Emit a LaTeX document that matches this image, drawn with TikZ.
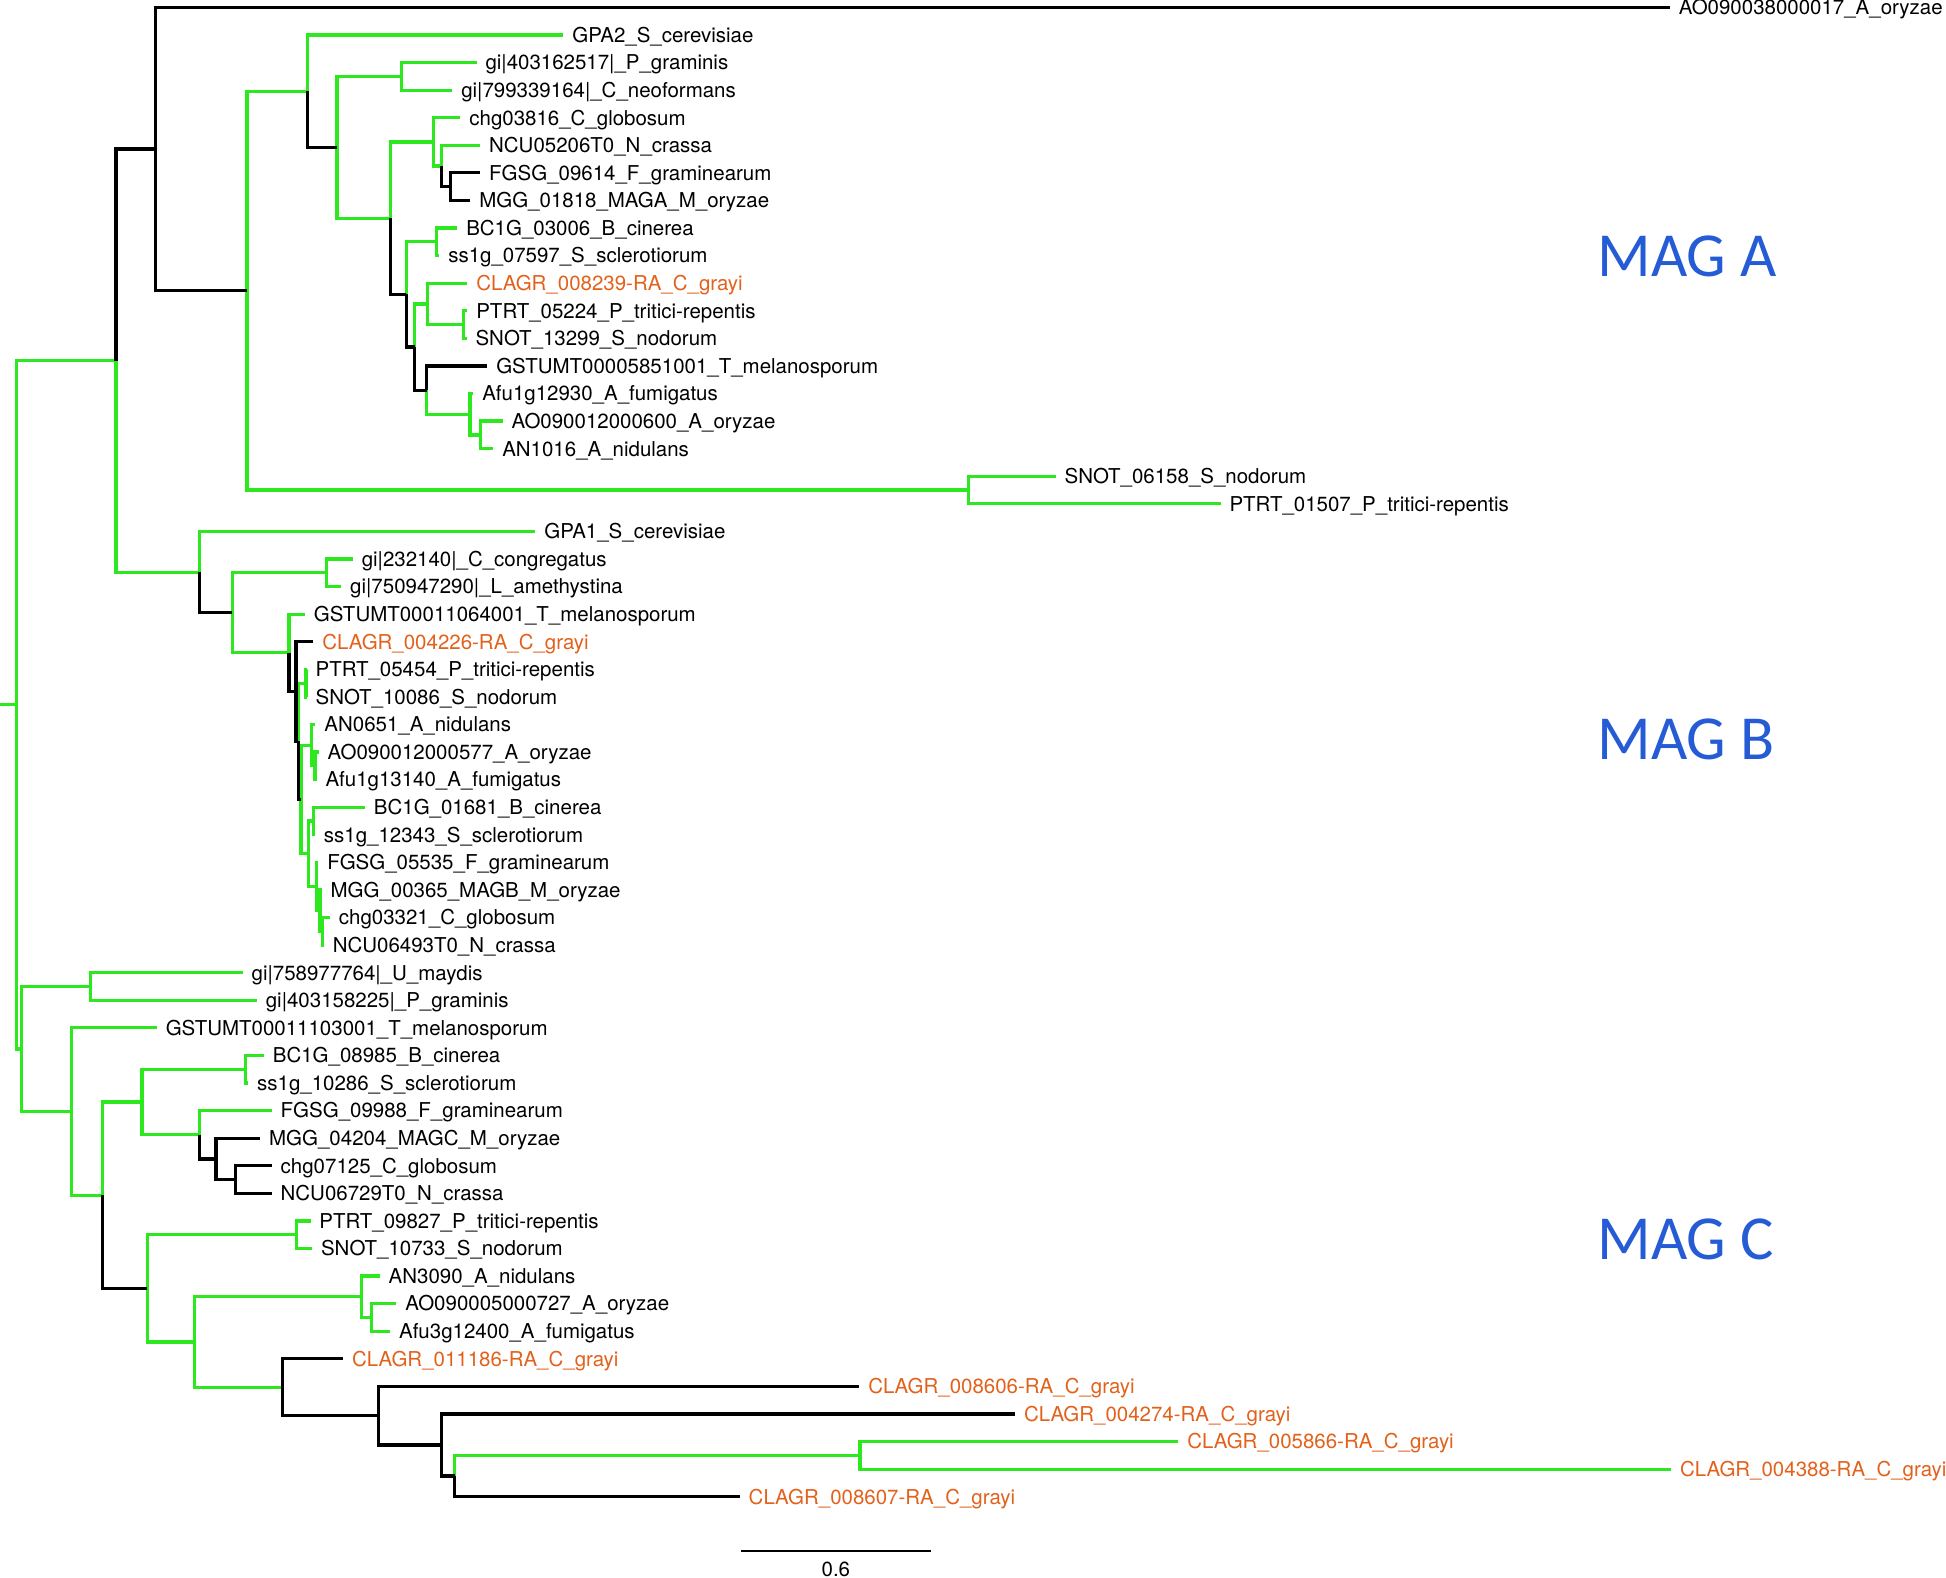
\documentclass[tikz,border=0pt]{standalone}
\usepackage{fontspec}
\newfontfamily\helv{TeX Gyre Heros}
\newfontfamily\magf{Carlito}
\newcommand{\labf}{\helv\fontsize{16.5}{16.5}\selectfont}
\definecolor{tgreen}{RGB}{45,232,30}
\definecolor{torange}{RGB}{226,97,27}
\definecolor{tblue}{RGB}{37,92,214}
\newcommand{\lf}[4]{%
  \coordinate (#1) at (#2,#3);
  \node[lab] (#1t) at (#2+7,#3+5.9) {#4};}
\newcommand{\olf}[4]{%
  \coordinate (#1) at (#2,#3);
  \node[lab,text=torange] (#1t) at (#2+7,#3+5.9) {#4};}
\begin{document}
\begin{tikzpicture}[x=1pt,y=-1pt,
  g/.style={draw=tgreen,line width=2.6pt},
  k/.style={draw=black,line width=2.6pt},
  lab/.style={anchor=base west,inner sep=0pt,font=\labf},
  mag/.style={anchor=base west,inner sep=0pt,text=tblue,font=\magf\fontsize{50.5}{50.5}\selectfont}]
\useasboundingbox (0,0) rectangle (1568,1271);
% leaves
\lf{l1}{1345.5}{6.0}{AO090038000017\_A\_oryzae}
\lf{l2}{454}{28.2}{GPA2\_S\_cerevisiae}
\lf{l3}{384}{50.4}{gi|403162517|\_P\_graminis}
\lf{l4}{364.5}{72.7}{gi|799339164|\_C\_neoformans}
\lf{l5}{371}{94.9}{chg03816\_C\_globosum}
\lf{l6}{387}{117.1}{NCU05206T0\_N\_crassa}
\lf{l7}{387}{139.3}{FGSG\_09614\_F\_graminearum}
\lf{l8}{379}{161.6}{MGG\_01818\_MAGA\_M\_oryzae}
\lf{l9}{368.5}{183.8}{BC1G\_03006\_B\_cinerea}
\lf{l10}{354}{206.0}{ss1g\_07597\_S\_sclerotiorum}
\olf{l11}{376.6}{228.2}{CLAGR\_008239-RA\_C\_grayi}
\lf{l12}{376.6}{250.4}{PTRT\_05224\_P\_tritici-repentis}
\lf{l13}{376}{272.7}{SNOT\_13299\_S\_nodorum}
\lf{l14}{392.7}{294.9}{GSTUMT00005851001\_T\_melanosporum}
\lf{l15}{381.4}{317.1}{Afu1g12930\_A\_fumigatus}
\lf{l16}{405}{339.3}{AO090012000600\_A\_oryzae}
\lf{l17}{397.5}{361.6}{AN1016\_A\_nidulans}
\lf{l18}{850.6}{383.8}{SNOT\_06158\_S\_nodorum}
\lf{l19}{983.5}{406.0}{PTRT\_01507\_P\_tritici-repentis}
\lf{l20}{431.4}{428.2}{GPA1\_S\_cerevisiae}
\lf{l21}{284.3}{450.4}{gi|232140|\_C\_congregatus}
\lf{l22}{275}{472.7}{gi|750947290|\_L\_amethystina}
\lf{l23}{245.8}{494.9}{GSTUMT00011064001\_T\_melanosporum}
\olf{l24}{252.5}{517.1}{CLAGR\_004226-RA\_C\_grayi}
\lf{l25}{247.1}{539.3}{PTRT\_05454\_P\_tritici-repentis}
\lf{l26}{247.1}{561.6}{SNOT\_10086\_S\_nodorum}
\lf{l27}{254.2}{583.8}{AN0651\_A\_nidulans}
\lf{l28}{256.8}{606.0}{AO090012000577\_A\_oryzae}
\lf{l29}{255.1}{628.2}{Afu1g13140\_A\_fumigatus}
\lf{l30}{294.1}{650.4}{BC1G\_01681\_B\_cinerea}
\lf{l31}{253.8}{672.7}{ss1g\_12343\_S\_sclerotiorum}
\lf{l32}{256.5}{694.9}{FGSG\_05535\_F\_graminearum}
\lf{l33}{259.2}{717.1}{MGG\_00365\_MAGB\_M\_oryzae}
\lf{l34}{265.9}{739.3}{chg03321\_C\_globosum}
\lf{l35}{261}{761.6}{NCU06493T0\_N\_crassa}
\lf{l36}{195.6}{783.8}{gi|758977764|\_U\_maydis}
\lf{l37}{207}{806.0}{gi|403158225|\_P\_graminis}
\lf{l38}{126.4}{828.2}{GSTUMT00011103001\_T\_melanosporum}
\lf{l39}{212.7}{850.4}{BC1G\_08985\_B\_cinerea}
\lf{l40}{200}{872.7}{ss1g\_10286\_S\_sclerotiorum}
\lf{l41}{219}{894.9}{FGSG\_09988\_F\_graminearum}
\lf{l42}{209.7}{917.1}{MGG\_04204\_MAGC\_M\_oryzae}
\lf{l43}{219}{939.3}{chg07125\_C\_globosum}
\lf{l44}{219}{961.6}{NCU06729T0\_N\_crassa}
\lf{l45}{250.2}{983.8}{PTRT\_09827\_P\_tritici-repentis}
\lf{l46}{251.5}{1006.0}{SNOT\_10733\_S\_nodorum}
\lf{l47}{306}{1028.2}{AN3090\_A\_nidulans}
\lf{l48}{319.4}{1050.4}{AO090005000727\_A\_oryzae}
\lf{l49}{314.4}{1072.7}{Afu3g12400\_A\_fumigatus}
\olf{l50}{276.5}{1094.9}{CLAGR\_011186-RA\_C\_grayi}
\olf{l51}{692.4}{1117.1}{CLAGR\_008606-RA\_C\_grayi}
\olf{l52}{817.9}{1139.3}{CLAGR\_004274-RA\_C\_grayi}
\olf{l53}{949.5}{1161.6}{CLAGR\_005866-RA\_C\_grayi}
\olf{l54}{1346.5}{1183.8}{CLAGR\_004388-RA\_C\_grayi}
\olf{l55}{596.1}{1206.0}{CLAGR\_008607-RA\_C\_grayi}
% internal nodes
\coordinate (R0) at (0,567.9);
\coordinate (R) at (13,567.9);
\coordinate (A) at (93.5,290.55);
\coordinate (A1) at (125,120.1);
\coordinate (A2) at (199,234.2);
\coordinate (A3) at (247.5,73.45);
\coordinate (A4) at (271.6,118.7);
\coordinate (A5) at (323.4,61.55);
\coordinate (A6) at (314.5,175.8);
\coordinate (A7) at (349,114.35);
\coordinate (A9) at (355.5,133.8);
\coordinate (A10) at (363,150.45);
\coordinate (A8) at (327.5,237.25);
\coordinate (A11) at (352,194.9);
\coordinate (A12) at (334,279.6);
\coordinate (A13) at (344.4,244.9);
\coordinate (A15) at (373.4,261.55);
\coordinate (A14) at (343.8,314.35);
\coordinate (A16) at (378.7,333.8);
\coordinate (A17) at (387.3,350.45);
\coordinate (S) at (780.6,394.9);
\coordinate (B) at (160.5,461.0);
\coordinate (B1) at (187.3,493.8);
\coordinate (B2) at (263.2,461.55);
\coordinate (B3) at (232.8,526.05);
\coordinate (B4) at (238.5,557.2);
\coordinate (B5) at (240.4,597.3);
\coordinate (B6) at (246.6,550.45);
\coordinate (B7) at (242.5,644.2);
\coordinate (B8) at (251.1,600.45);
\coordinate (B10) at (253.8,617.1);
\coordinate (B9) at (248.5,687.95);
\coordinate (B11) at (252.5,661.55);
\coordinate (B12) at (255.2,714.35);
\coordinate (B13) at (257.9,733.8);
\coordinate (B14) at (260,750.45);
\coordinate (N1) at (17.4,845.25);
\coordinate (N2) at (73,794.9);
\coordinate (NC) at (57.5,895.6);
\coordinate (NC2) at (82.6,963.0);
\coordinate (C1) at (114.4,887.95);
\coordinate (C3) at (198,861.55);
\coordinate (C4) at (160.5,914.35);
\coordinate (C5) at (174,933.8);
\coordinate (C6) at (190,950.45);
\coordinate (C2) at (118.7,1038.1);
\coordinate (C7) at (239.1,994.9);
\coordinate (C8) at (157,1081.35);
\coordinate (C9) at (291,1044.9);
\coordinate (C11) at (299.3,1061.55);
\coordinate (C10) at (227.6,1117.8);
\coordinate (C12) at (305.2,1140.7);
\coordinate (C13) at (356,1164.3);
\coordinate (C14) at (366.4,1189.35);
\coordinate (C15) at (693,1172.7);
% green branches
\draw[g] (R0) -- (R);
\foreach \p/\c in {R/A,R/N1,A/B,A2/A3,A2/S,A3/l2,A4/A5,A4/A6,A5/l3,A5/l4,A6/A7,
  A7/l5,A7/A9,A9/l6,A8/A11,A11/l9,A11/l10,A12/A13,A13/l11,A13/A15,A15/l12,A15/l13,
  A14/A16,A16/l15,A16/A17,A17/l16,A17/l17,S/l18,S/l19,B/l20,B1/B2,B1/B3,B2/l21,B2/l22,
  B3/l23,B5/B6,B6/l25,B6/l26,B7/B8,B7/B9,B8/l27,B8/B10,B10/l28,B10/l29,B9/B11,B9/B12,
  B11/l30,B11/l31,B12/l32,B12/B13,B13/l33,B13/B14,B14/l34,B14/l35,N1/N2,N1/NC,N2/l36,
  N2/l37,NC/l38,NC/NC2,NC2/C1,C1/C3,C1/C4,C3/l39,C3/l40,C4/l41,C2/C7,C2/C8,C7/l45,
  C7/l46,C8/C9,C8/C10,C9/l47,C9/C11,C11/l48,C11/l49,C14/C15,C15/l53,C15/l54}
  {\draw[g] (\p) |- (\c);}
% black branches
\foreach \p/\c in {A/A1,A1/l1,A1/A2,A3/A4,A6/A8,A9/A10,A10/l7,A10/l8,A8/A12,A12/A14,
  A14/l14,B/B1,B3/B4,B4/l24,B4/B5,B5/B7,NC2/C2,C4/C5,C5/l42,C5/C6,C6/l43,C6/l44,
  C10/l50,C10/C12,C12/l51,C12/C13,C13/l52,C13/C14,C14/l55}
  {\draw[k] (\p) |- (\c);}
% scale bar
\coordinate (sb1) at (597,1249.6);
\coordinate (sb2) at (750,1249.6);
\draw[line width=1.3pt] (sb1) -- (sb2);
\node[anchor=base,inner sep=0pt,font=\labf] (sbl) at (673.5,1270.5) {0.6};
% clade labels
\node[mag] (magA) at (1287,223) {MAG A};
\node[mag] (magB) at (1287,612) {MAG B};
\node[mag] (magC) at (1287,1015) {MAG C};
\end{tikzpicture}
\end{document}
